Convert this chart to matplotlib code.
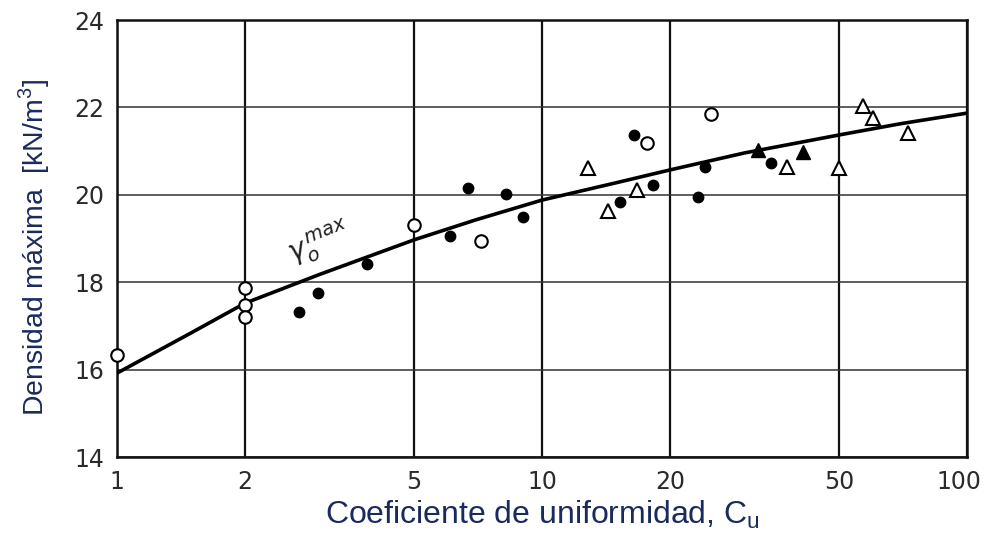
import numpy as np
import matplotlib
matplotlib.use("Agg")
import matplotlib.pyplot as plt
from matplotlib.transforms import ScaledTranslation

# Fitted curve
curve_x = [1, 1.5, 2, 3, 5, 7, 10, 15, 20, 30, 50, 70, 100]
curve_y = [15.92, 16.85, 17.52, 18.18, 18.97, 19.43, 19.88, 20.28, 20.57, 20.96, 21.37, 21.63, 21.87]

# Open circles
oc_x = [1.0, 2.0, 2.0, 2.0, 5.0, 7.2, 17.7, 25.0]
oc_y = [16.33, 17.87, 17.48, 17.20, 19.31, 18.94, 21.19, 21.85]

# Filled circles
fc_x = [2.68, 2.97, 3.88, 6.08, 6.70, 8.23, 9.02, 15.3, 18.2, 16.5, 23.3, 24.2, 34.6]
fc_y = [17.32, 17.75, 18.42, 19.06, 20.16, 20.02, 19.49, 19.84, 20.22, 21.37, 19.95, 20.64, 20.73]

# Filled triangles
ft_x = [32.2, 41.1]
ft_y = [21.03, 20.98]

# Open triangles
ot_x = [12.8, 14.3, 16.7, 37.7, 50.0, 56.9, 60.1, 72.6]
ot_y = [20.61, 19.63, 20.11, 20.64, 20.61, 22.03, 21.76, 21.41]

xticks = [1, 2, 5, 10, 20, 50, 100]
xtick_labels = ["1", "2", "5", "10", "20", "50", "100"]
yticks = [14, 16, 18, 20, 22, 24]

fig = plt.figure(figsize=(9.85, 5.42), dpi=100)
ax = fig.add_axes([0.1188, 0.1568, 0.8629, 0.8062])
ax.set_xscale("log")
ax.set_xlim(1, 100)
ax.set_ylim(14, 24)

for xv in xticks:
    ax.axvline(xv, color="#111111", lw=1.6, zorder=1)
for yv in yticks:
    ax.axhline(yv, color="#333333", lw=1.1, zorder=1)

ax.plot(curve_x, curve_y, color="black", lw=2.6, zorder=3, solid_joinstyle="round")

ax.plot(oc_x, oc_y, "o", ms=9, mfc="white", mec="black", mew=1.5, zorder=4, clip_on=False)
ax.plot(fc_x, fc_y, "o", ms=7.5, mfc="black", mec="black", zorder=4)
ax.plot(ft_x, ft_y, "^", ms=10, mfc="black", mec="black", zorder=4)
ax.plot(ot_x, ot_y, "^", ms=10, mfc="white", mec="black", mew=1.5, zorder=4)

ax.text(3.0, 18.88, r"$\gamma_o^{\,max}$", rotation=22, fontsize=20,
        ha="center", va="center", color="#222222", zorder=5)

ax.set_xticks(xticks)
ax.set_xticklabels(xtick_labels)
ax.set_yticks(yticks)
ax.minorticks_off()
ax.tick_params(axis="both", length=0, labelsize=17, labelcolor="#2a2a2a")
ax.tick_params(axis="x", pad=9)
ax.tick_params(axis="y", pad=9)

# keep the last x label inside the figure
last = ax.get_xticklabels()[-1]
last.set_horizontalalignment("right")
last.set_transform(last.get_transform() + ScaledTranslation(0.14, 0, fig.dpi_scale_trans))

for s in ax.spines.values():
    s.set_color("#111111")
    s.set_linewidth(1.8)

label_color = "#1b2a5c"
ax.set_xlabel(r"Coeficiente de uniformidad, C$_\mathregular{u}$", fontsize=23,
              family="Liberation Sans", color=label_color, labelpad=4)
ax.set_ylabel(r"Densidad máxima  [kN/m$^\mathregular{3}$]", fontsize=20.4,
              family="Liberation Sans", color=label_color)
ax.yaxis.set_label_coords(-0.077, 0.48)

fig.savefig("out.png", dpi=100)
